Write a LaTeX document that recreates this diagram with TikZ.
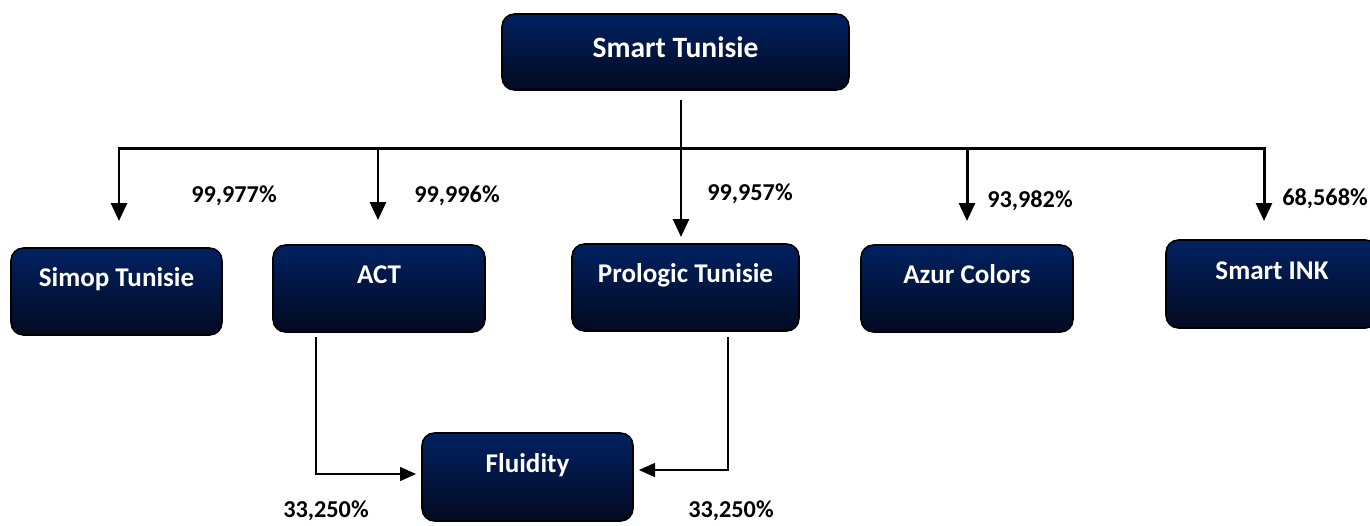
\documentclass[tikz,border=0pt]{standalone}
\usepackage{fontspec}
\setmainfont{Carlito}
\usetikzlibrary{arrows.meta}
\definecolor{navyT}{RGB}{0,33,97}
\definecolor{navyB}{RGB}{3,10,32}
\begin{document}
\begin{tikzpicture}[x=0.02cm,y=-0.02cm,
 box/.style={draw=black, line width=0.9pt, rounded corners=0.25cm, top color=navyT, bottom color=navyB, text=white, font=\bfseries\fontsize{15.4}{18}\selectfont, minimum width=4.24cm, minimum height=1.74cm, text height=0.35cm, text depth=0.55cm, inner sep=0pt},
 pct/.style={font=\bfseries\fontsize{13.8}{16}\selectfont, inner sep=0pt},
 bus/.style={line width=1.7pt, line cap=rect},
 down/.style={line width=1.7pt, -{Triangle[width=0.32cm,length=0.36cm]}},
 thinarrow/.style={line width=0.8pt, -{Triangle[width=0.28cm,length=0.32cm]}}
]
\useasboundingbox (0,0) rectangle (1370,525);
% boxes
\node[box, minimum width=6.94cm, minimum height=1.52cm, text height=0.35cm, text depth=0.15cm, font=\bfseries\fontsize{16.8}{20}\selectfont] (st) at (675.5,52) {Smart Tunisie};
\node[box, minimum width=4.22cm] (simop) at (116.5,291.5) {Simop Tunisie};
\node[box] (act) at (379,288.5) {ACT};
\node[box, minimum width=4.54cm] (prologic) at (685.5,287.5) {Prologic Tunisie};
\node[box] (azur) at (967,288.5) {Azur Colors};
\node[box, minimum height=1.76cm] (ink) at (1272,284) {Smart INK};
\node[box, minimum width=4.22cm, minimum height=1.76cm] (fluid) at (527.5,477) {Fluidity};
% bus coordinates
\coordinate (t0) at (681,100);
\coordinate (b1) at (119,148);
\coordinate (b2) at (378,148);
\coordinate (b4) at (967,148);
\coordinate (b5) at (1264,148);
\coordinate (a1) at (119,221);
\coordinate (a2) at (378,220);
\coordinate (a3) at (681,237);
\coordinate (a4) at (967,221);
\coordinate (a5) at (1264,221);
\draw[bus] (b1) -- (b5);
\draw[down] (t0) -- (a3);
\draw[down] (b1) -- (a1);
\draw[down] (b2) -- (a2);
\draw[down] (b4) -- (a4);
\draw[down] (b5) -- (a5);
% thin connectors to Fluidity
\coordinate (c1) at (316,337);
\coordinate (c1e) at (416,474);
\coordinate (c2) at (728,337);
\coordinate (c2e) at (639,470);
\draw[thinarrow] (c1) |- (c1e);
\draw[thinarrow] (c2) |- (c2e);
% percentages
\node[pct] (p1) at (234,196) {99,977\%};
\node[pct] (p2) at (457,196) {99,996\%};
\node[pct] (p3) at (750,194) {99,957\%};
\node[pct] (p4) at (1030,201) {93,982\%};
\node[pct] (p5) at (1325,199) {68,568\%};
\node[pct, anchor=base] (p6) at (326,517) {33,250\%};
\node[pct, anchor=base] (p7) at (731,517) {33,250\%};
\end{tikzpicture}
\end{document}
